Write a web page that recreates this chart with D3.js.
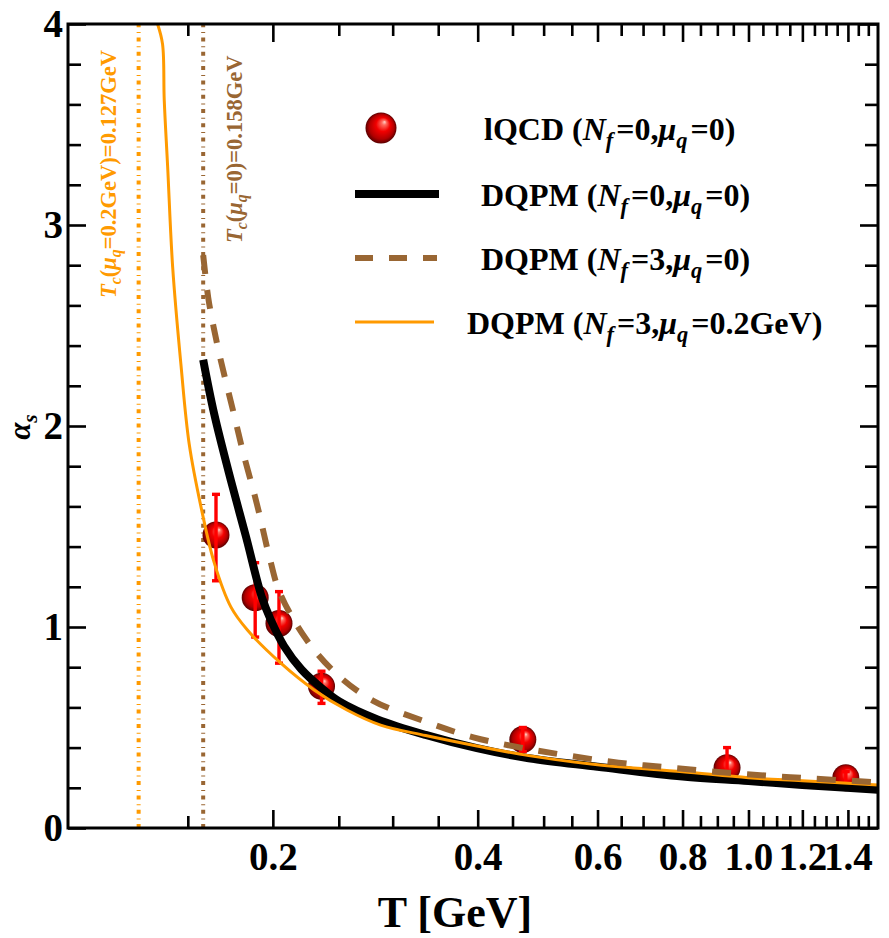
<!DOCTYPE html>
<html>
<head>
<meta charset="utf-8">
<script src="https://cdn.jsdelivr.net/npm/d3@7"></script>
<style>
  body { margin: 0; background: #fff; }
  text { font-family: "Liberation Serif", "Times New Roman", serif; font-weight: bold; }
  .tick text { font-family: "Liberation Serif", "Times New Roman", serif; }
</style>
</head>
<body>
<div id="chart"></div>
<script>
// lattice QCD points (Nf=0, mu_q=0)
const lqcdT = [0.165, 0.1884, 0.2042, 0.2358, 0.466, 0.93, 1.39];
const lqcdAlpha = [1.458, 1.146, 1.018, 0.705, 0.44, 0.30, 0.25];
const lqcdLow = [1.23, 0.95, 0.82, 0.62, 0.38, 0.24, 0.22];
const lqcdHigh = [1.66, 1.32, 1.176, 0.78, 0.50, 0.40, 0.28];

// DQPM Nf=0, mu_q=0
const nf0T = [0.158, 0.164, 0.1735, 0.1826, 0.1926, 0.1986, 0.2077, 0.2202, 0.237, 0.2508, 0.285, 0.3354, 0.3989, 0.4754, 0.6, 0.8, 1.0, 1.2, 1.55];
const nf0Alpha = [2.33, 2.06, 1.73, 1.45, 1.15, 1.035, 0.905, 0.79, 0.69, 0.628, 0.54, 0.463, 0.397, 0.347, 0.305, 0.256, 0.234, 0.214, 0.19];

// DQPM Nf=3, mu_q=0
const nf3T = [0.158, 0.1607, 0.1635, 0.1676, 0.175, 0.181, 0.1894, 0.1982, 0.2049, 0.2243, 0.2482, 0.2809, 0.3354, 0.3942, 0.4629, 0.5441, 0.6443, 0.7568, 0.8937, 1.0584, 1.2466, 1.4746, 1.55];
const nf3Alpha = [2.85, 2.64, 2.50, 2.33, 2.07, 1.864, 1.615, 1.333, 1.168, 0.935, 0.766, 0.633, 0.529, 0.451, 0.400, 0.360, 0.325, 0.302, 0.280, 0.261, 0.246, 0.231, 0.226];

// DQPM Nf=3, mu_q=0.2 GeV
const muT = [0.1354, 0.1377, 0.1385, 0.1401, 0.1425, 0.1465, 0.1507, 0.157, 0.164, 0.1735, 0.1835, 0.2055, 0.23, 0.257, 0.288, 0.3354, 0.3989, 0.4754, 0.6, 0.8, 1.0, 1.2, 1.55];
const muAlpha = [4.0, 3.90, 3.62, 3.29, 2.79, 2.31, 1.91, 1.59, 1.32, 1.10, 0.985, 0.82, 0.687, 0.587, 0.512, 0.46, 0.408, 0.36, 0.315, 0.28, 0.25, 0.235, 0.214];

// critical temperatures
const tcValues = [0.127, 0.158];

const xMajor = [0.2, 0.4, 0.6, 0.8, 1.0, 1.2, 1.4];
const xMinor = [0.15, 0.25, 0.3, 0.35, 0.45, 0.5, 0.55, 0.65, 0.7, 0.75, 0.85, 0.9, 0.95, 1.05, 1.1, 1.15, 1.25, 1.3, 1.35, 1.45, 1.5];
const yMajor = [0, 1, 2, 3, 4];
const yMinor = [0.2, 0.4, 0.6, 0.8, 1.2, 1.4, 1.6, 1.8, 2.2, 2.4, 2.6, 2.8, 3.2, 3.4, 3.6, 3.8];

const width = 889;
const height = 938;
const L = 68, R = 878, T = 24, B = 828;

const x = d3.scaleLog().domain([0.1, 1.55]).range([L, R]);
const y = d3.scaleLinear().domain([0, 4]).range([B, T]);

const svg = d3.select('#chart')
  .append('svg')
  .attr('width', width)
  .attr('height', height)
  .attr('viewBox', `0 0 ${width} ${height}`);

const defs = svg.append('defs');
defs.append('clipPath').attr('id', 'plot')
  .append('rect').attr('x', L).attr('y', T).attr('width', R - L).attr('height', B - T);

const grad = defs.append('radialGradient')
  .attr('id', 'ball')
  .attr('cx', '50%').attr('cy', '50%').attr('r', '50%')
  .attr('fx', '62%').attr('fy', '30%');
[['0%', '#ffd4cc'], ['15%', '#ff6a5e'], ['45%', '#f20000'], ['80%', '#b00000'], ['100%', '#5a0000']]
  .forEach(s => grad.append('stop').attr('offset', s[0]).attr('stop-color', s[1]));

// axes (ticks pointing inward on all four sides)
const styleAxis = g => {
  g.select('.domain').remove();
  g.selectAll('.tick line').attr('stroke', '#000').attr('stroke-width', 2.6);
  g.selectAll('.tick text').attr('fill', '#000').style('font-size', '39px').style('font-weight', 'bold');
};

svg.append('g').attr('transform', `translate(0,${B})`)
  .call(d3.axisBottom(x).tickValues(xMajor).tickSize(-18).tickPadding(14).tickFormat(d3.format('.1f')))
  .call(styleAxis);
svg.append('g').attr('transform', `translate(0,${B})`)
  .call(d3.axisBottom(x).tickValues(xMinor).tickSize(-12).tickFormat(''))
  .call(styleAxis);
svg.append('g').attr('transform', `translate(0,${T})`)
  .call(d3.axisTop(x).tickValues(xMajor).tickSize(-18).tickFormat(''))
  .call(styleAxis);
svg.append('g').attr('transform', `translate(0,${T})`)
  .call(d3.axisTop(x).tickValues(xMinor).tickSize(-12).tickFormat(''))
  .call(styleAxis);

svg.append('g').attr('transform', `translate(${L},0)`)
  .call(d3.axisLeft(y).tickValues(yMajor).tickSize(-18).tickPadding(5).tickFormat(d3.format('d')))
  .call(styleAxis);
svg.append('g').attr('transform', `translate(${L},0)`)
  .call(d3.axisLeft(y).tickValues(yMinor).tickSize(-13).tickFormat(''))
  .call(styleAxis);
svg.append('g').attr('transform', `translate(${R},0)`)
  .call(d3.axisRight(y).tickValues(yMajor).tickSize(-18).tickFormat(''))
  .call(styleAxis);
svg.append('g').attr('transform', `translate(${R},0)`)
  .call(d3.axisRight(y).tickValues(yMinor).tickSize(-13).tickFormat(''))
  .call(styleAxis);

const plot = svg.append('g').attr('clip-path', 'url(#plot)');

// Tc vertical lines
const tcColors = ['#ff9a00', '#996633'];
plot.selectAll('.tc')
  .data(tcValues)
  .join('line')
  .attr('x1', d => x(d)).attr('x2', d => x(d))
  .attr('y1', B).attr('y2', T)
  .attr('stroke', (d, i) => tcColors[i])
  .attr('stroke-width', 4)
  .attr('stroke-dasharray', '4,4.5,1,4.8');

// lattice points
const pts = lqcdT.map((t, i) => ({ t, a: lqcdAlpha[i], lo: lqcdLow[i], hi: lqcdHigh[i] }));
const pg = plot.selectAll('.pt').data(pts).join('g');
pg.append('circle')
  .attr('cx', d => x(d.t)).attr('cy', d => y(d.a)).attr('r', 13.5)
  .attr('fill', 'url(#ball)');
pg.append('line')
  .attr('x1', d => x(d.t)).attr('x2', d => x(d.t))
  .attr('y1', d => y(d.lo)).attr('y2', d => y(d.hi))
  .attr('stroke', '#ff0000').attr('stroke-width', 3.4);
pg.selectAll('.cap').data(d => [[d.t, d.lo], [d.t, d.hi]]).join('line')
  .attr('x1', d => x(d[0]) - 4).attr('x2', d => x(d[0]) + 4)
  .attr('y1', d => y(d[1])).attr('y2', d => y(d[1]))
  .attr('stroke', '#ff0000').attr('stroke-width', 3.4);

const line = d3.line().x(d => x(d[0])).y(d => y(d[1])).curve(d3.curveCatmullRom.alpha(0.5));
const zip = (a, b) => a.map((v, i) => [v, b[i]]);

plot.append('path').datum(zip(nf0T, nf0Alpha))
  .attr('d', line).attr('fill', 'none').attr('stroke', '#000').attr('stroke-width', 8);
plot.append('path').datum(zip(muT, muAlpha))
  .attr('d', line).attr('fill', 'none').attr('stroke', '#ff9a00').attr('stroke-width', 3);
plot.append('path').datum(zip(nf3T, nf3Alpha))
  .attr('d', line).attr('fill', 'none').attr('stroke', '#996633').attr('stroke-width', 6)
  .attr('stroke-dasharray', '19,16');

// frame
svg.append('rect')
  .attr('x', L).attr('y', T).attr('width', R - L).attr('height', B - T)
  .attr('fill', 'none').attr('stroke', '#000').attr('stroke-width', 3);

// rich text helper: parts = [text, kind, dx] kind: n normal, i italic, s italic subscript
const rich = (sel, parts, size) => {
  const sub = size * 0.7, shift = size * 0.24;
  let down = false;
  parts.forEach(([txt, kind, dx]) => {
    const ts = sel.append('tspan').text(txt);
    if (kind === 's') {
      ts.attr('dy', down ? 0 : shift).style('font-size', sub + 'px').style('font-style', 'italic');
      down = true;
    } else {
      if (down) ts.attr('dy', -shift);
      down = false;
      ts.style('font-size', size + 'px');
      if (kind === 'i') ts.style('font-style', 'italic');
    }
    if (dx) ts.attr('dx', dx);
  });
};

// Tc labels (rotated)
const tcLabels = [
  [['T', 'i'], ['c', 's'], ['(', 'n'], ['μ', 'i'], ['q', 's'], ['=0.2GeV)=0.127GeV', 'n']],
  [['T', 'i'], ['c', 's'], ['(', 'n'], ['μ', 'i'], ['q', 's'], ['=0)=0.158GeV', 'n']]
];
const tcLabelPos = [[116, 298], [242, 243]];
tcLabels.forEach((parts, i) => {
  const t = svg.append('text')
    .attr('transform', `translate(${tcLabelPos[i][0]},${tcLabelPos[i][1]}) rotate(-90)`)
    .attr('fill', tcColors[i]);
  rich(t, parts, 22.5);
});

// axis titles
svg.append('text').attr('x', 455).attr('y', 927).attr('text-anchor', 'middle')
  .style('font-size', '44px').text('T [GeV]');
const yt = svg.append('text')
  .attr('transform', 'translate(30,427) rotate(-90)').attr('text-anchor', 'middle');
rich(yt, [['α', 'i'], ['s', 's']], 31);

// legend
const legendNames = ['lQCD', 'DQPM', 'DQPM', 'DQPM'];
const legendParams = [
  [['N', 'i'], ['f', 's'], ['=0,', 'n', 3], ['μ', 'i'], ['q', 's'], ['=0)', 'n', 3]],
  [['N', 'i'], ['f', 's'], ['=0,', 'n', 3], ['μ', 'i'], ['q', 's'], ['=0)', 'n', 3]],
  [['N', 'i'], ['f', 's'], ['=3,', 'n', 3], ['μ', 'i'], ['q', 's'], ['=0)', 'n', 3]],
  [['N', 'i'], ['f', 's'], ['=3,', 'n', 3], ['μ', 'i'], ['q', 's'], ['=0.2GeV)', 'n', 3]]
];
const legendRowY = [128, 194, 258, 322];
const legendTextX = [484, 481, 481, 467];

const lg = svg.append('g');
lg.append('circle').attr('cx', 381).attr('cy', legendRowY[0]).attr('r', 15.5).attr('fill', 'url(#ball)');
lg.append('line').attr('x1', 355).attr('x2', 439).attr('y1', legendRowY[1]).attr('y2', legendRowY[1])
  .attr('stroke', '#000').attr('stroke-width', 8);
lg.append('line').attr('x1', 355).attr('x2', 437).attr('y1', legendRowY[2]).attr('y2', legendRowY[2])
  .attr('stroke', '#996633').attr('stroke-width', 6).attr('stroke-dasharray', '18,16');
lg.append('line').attr('x1', 355).attr('x2', 434).attr('y1', legendRowY[3]).attr('y2', legendRowY[3])
  .attr('stroke', '#ff9a00').attr('stroke-width', 3);

legendNames.forEach((name, i) => {
  const t = lg.append('text').attr('x', legendTextX[i]).attr('y', legendRowY[i] + 12);
  rich(t, [[name + ' (', 'n']].concat(legendParams[i]), 32);
});
</script>
</body>
</html>
